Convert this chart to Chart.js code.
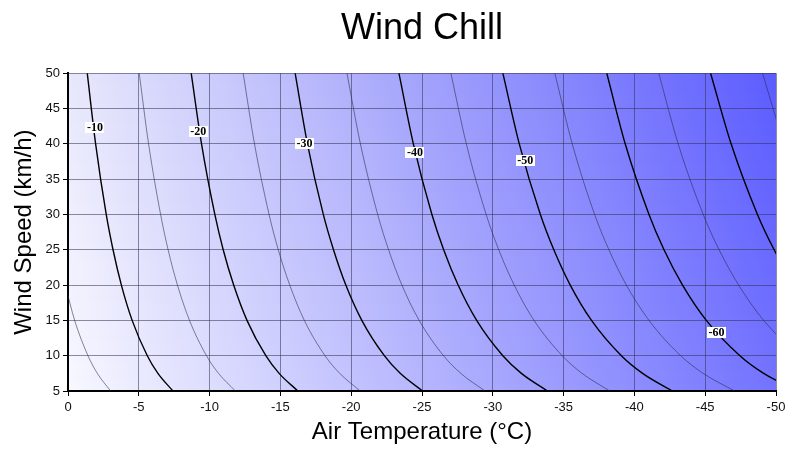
<!DOCTYPE html>
<html>
<head>
<meta charset="utf-8">
<script src="https://cdn.jsdelivr.net/npm/chart.js@4.4.1/dist/chart.umd.min.js"></script>
<style>
  html, body { margin: 0; padding: 0; background: #fff; }
  #wrap { width: 799px; height: 461px; position: relative; }
</style>
</head>
<body>
<div id="wrap"><canvas id="chillChart"></canvas></div>
<script>
const windSpeeds = [5, 7.5, 10, 15, 20, 25, 30, 40, 50];

// air temperature (°C) of each wind chill contour, per wind speed
const chillMinus5  = [-3.01, -2.07, -1.41, -0.47, 0.19, null, null, null, null];
const chillMinus10 = [-7.41, -6.35, -5.60, -4.53, -3.77, -3.18, -2.70, -1.95, -1.36];
const chillMinus15 = [-11.82, -10.63, -9.78, -8.58, -7.73, -7.07, -6.54, -5.69, -5.03];
const chillMinus20 = [-16.23, -14.91, -13.97, -12.64, -11.70, -10.96, -10.37, -9.43, -8.70];
const chillMinus25 = [-20.64, -19.19, -18.15, -16.69, -15.66, -14.85, -14.20, -13.17, -12.37];
const chillMinus30 = [-25.04, -23.46, -22.34, -20.75, -19.62, -18.75, -18.03, -16.91, -16.04];
const chillMinus35 = [-29.45, -27.74, -26.52, -24.80, -23.58, -22.64, -21.87, -20.65, -19.70];
const chillMinus40 = [-33.86, -32.02, -30.71, -28.86, -27.55, -26.53, -25.70, -24.39, -23.37];
const chillMinus45 = [-38.26, -36.30, -34.90, -32.91, -31.51, -30.42, -29.53, -28.13, -27.04];
const chillMinus50 = [-42.67, -40.58, -39.08, -36.97, -35.47, -34.31, -33.36, -31.87, -30.71];
const chillMinus55 = [-47.08, -44.85, -43.27, -41.03, -39.43, -38.20, -37.19, -35.61, -34.38];
const chillMinus60 = [-51.49, -49.13, -47.45, -45.08, -43.40, -42.09, -41.03, -39.35, -38.05];
const chillMinus65 = [-55.89, -53.41, -51.64, -49.13, -47.36, -45.98, -44.86, -43.09, -41.72];
const chillMinus70 = [-60.30, -57.69, -55.82, -53.19, -51.32, -49.87, -48.69, -46.83, -45.38];
const chillMinus75 = [null, null, null, null, null, -53.76, -52.52, -50.57, -49.05];

const contourLevels = [-5, -10, -15, -20, -25, -30, -35, -40, -45, -50, -55, -60, -65, -70, -75];
const contourTemps = [chillMinus5, chillMinus10, chillMinus15, chillMinus20, chillMinus25,
    chillMinus30, chillMinus35, chillMinus40, chillMinus45, chillMinus50, chillMinus55,
    chillMinus60, chillMinus65, chillMinus70, chillMinus75];

// inline contour labels
const labelText = ['-10', '-20', '-30', '-40', '-50', '-60'];
const labelTemp = [-1.9, -9.2, -16.7, -24.5, -32.3, -45.8];
const labelWind = [42.3, 41.7, 40.1, 38.8, 37.7, 13.3];

const datasets = contourLevels.map((level, i) => {
    const major = level % 10 === 0;
    const pts = [];
    windSpeeds.forEach((v, j) => {
        const t = contourTemps[i][j];
        if (t !== null) pts.push({ x: t, y: v });
    });
    return {
        label: String(level),
        data: pts,
        borderColor: major ? '#000' : 'rgba(40,40,70,0.7)',
        borderWidth: major ? 1.4 : 0.8,
        pointRadius: 0,
        cubicInterpolationMode: 'monotone',
        clip: 0
    };
});

// shaded background (white -> blue), bilinear over the plot area
function mix(a, b, t) {
    return a.map((c, k) => Math.round(c + (b[k] - c) * t));
}
const bgPlugin = {
    id: 'bgShade',
    beforeDraw(chart) {
        const { ctx, chartArea: a } = chart;
        const topRow = [[232, 232, 252], [162, 162, 252], [92, 92, 255]];
        const botRow = [[248, 248, 255], [182, 182, 254], [115, 115, 255]];
        ctx.save();
        const y0 = Math.floor(a.top), y1 = Math.ceil(a.bottom);
        for (let y = y0; y < y1; y++) {
            const t = (y - y0) / (y1 - y0);
            const g = ctx.createLinearGradient(a.left, 0, a.right, 0);
            [0, 0.5, 1].forEach((s, k) => {
                const c = mix(topRow[k], botRow[k], t);
                g.addColorStop(s, `rgb(${c[0]},${c[1]},${c[2]})`);
            });
            ctx.fillStyle = g;
            ctx.fillRect(Math.floor(a.left), y, Math.ceil(a.right) - Math.floor(a.left), 1);
        }
        ctx.restore();
    }
};

const labelPlugin = {
    id: 'contourLabels',
    afterDatasetsDraw(chart) {
        const { ctx, scales: { x, y } } = chart;
        ctx.save();
        ctx.font = 'bold 12px "Liberation Serif", "DejaVu Serif", serif';
        ctx.textAlign = 'center';
        ctx.textBaseline = 'middle';
        labelText.forEach((txt, i) => {
            const px = x.getPixelForValue(labelTemp[i]);
            const py = y.getPixelForValue(labelWind[i]);
            const w = ctx.measureText(txt).width + 3;
            ctx.fillStyle = '#fff';
            ctx.fillRect(Math.round(px - w / 2), Math.round(py - 5.5), Math.round(w), 11);
            ctx.fillStyle = '#000';
            ctx.fillText(txt, px, py + 0.5);
        });
        ctx.restore();
    }
};

const FONT = '"Liberation Sans", Arial, Helvetica, sans-serif';
const gridColor = 'rgba(50,50,80,0.55)';

new Chart(document.getElementById('chillChart').getContext('2d'), {
    type: 'line',
    data: { datasets },
    options: {
        responsive: true,
        maintainAspectRatio: false,
        animation: false,
        layout: { padding: { left: 0, right: 23, top: 0, bottom: 0 } },
        scales: {
            x: {
                type: 'linear',
                min: -50,
                max: 0,
                reverse: true,
                ticks: { stepSize: 5, color: '#111', padding: 4, font: { family: FONT, size: 13 } },
                grid: { color: gridColor, tickColor: '#000', tickLength: 5 },
                border: { color: '#000', width: 2 },
                title: {
                    display: true,
                    text: 'Air Temperature (°C)',
                    color: '#000',
                    font: { family: FONT, size: 24 },
                    padding: { top: 0, bottom: 14 }
                },
                afterFit: s => { s.height = 70; }
            },
            y: {
                type: 'linear',
                min: 5,
                max: 50,
                ticks: { stepSize: 5, color: '#111', padding: 3, font: { family: FONT, size: 13 } },
                grid: { color: gridColor, tickColor: '#000', tickLength: 5 },
                border: { color: '#000', width: 2 },
                title: {
                    display: true,
                    text: 'Wind Speed (km/h)',
                    color: '#000',
                    font: { family: FONT, size: 24 },
                    padding: { top: 10, bottom: 0 }
                },
                afterFit: s => { s.width = 68; }
            }
        },
        plugins: {
            legend: { display: false },
            tooltip: { enabled: false },
            title: {
                display: true,
                text: 'Wind Chill',
                color: '#000',
                fullSize: false,
                font: { family: FONT, size: 36, weight: 'normal' },
                padding: { top: 7, bottom: 23 }
            }
        }
    },
    plugins: [bgPlugin, labelPlugin]
});
</script>
</body>
</html>
